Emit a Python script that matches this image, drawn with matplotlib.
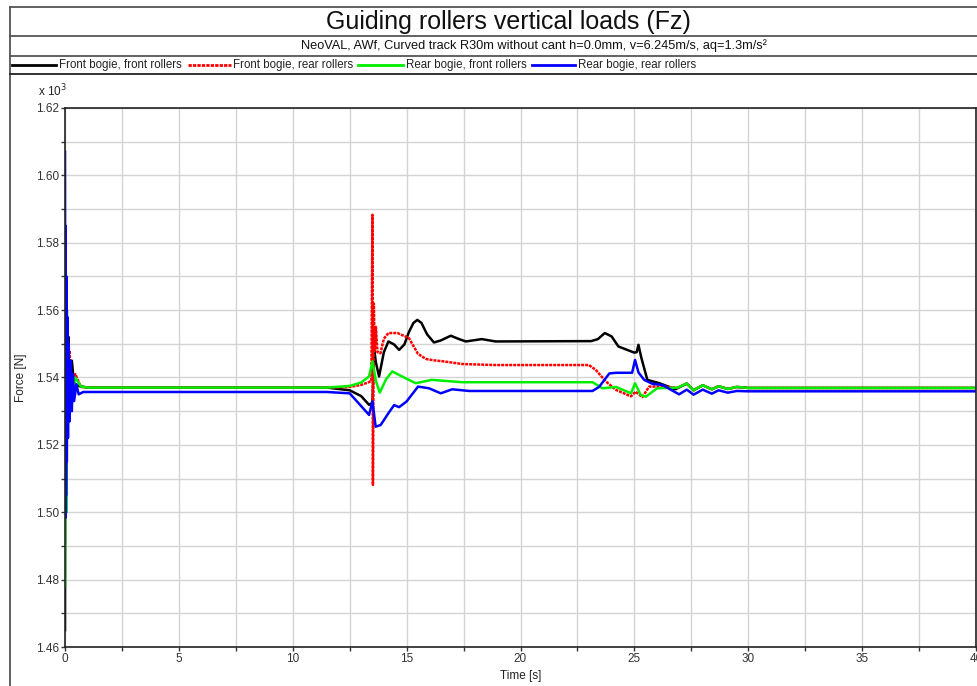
import matplotlib
matplotlib.use("Agg")
import matplotlib.pyplot as plt
from matplotlib.lines import Line2D
from matplotlib.ticker import MultipleLocator, FormatStrFormatter

# ---------------- data (values in 10^3 N) ----------------
series_names = ["Front bogie, front rollers", "Front bogie, rear rollers",
                "Rear bogie, front rollers", "Rear bogie, rear rollers"]

t_ff = [0, 0.02, 0.05, 0.08, 0.12, 0.16, 0.2, 0.3, 0.4, 0.6, 1.0, 11.5, 12.5, 13.0,
        13.35, 13.5, 13.57, 13.65, 13.79, 14.0, 14.2, 14.45, 14.67, 14.9, 15.1, 15.3,
        15.47, 15.65, 15.9, 16.2, 16.5, 16.94, 17.3, 17.6, 18.3, 18.9, 23.1, 23.4, 23.7,
        24.0, 24.3, 24.99, 25.1, 25.18, 25.3, 25.57, 26.1, 26.8, 27.3, 27.6, 28.0, 28.4,
        28.7, 29.1, 29.5, 30.0, 40]
f_ff = [1.465, 1.571, 1.50, 1.56, 1.528, 1.552, 1.533, 1.545, 1.538, 1.5375, 1.537,
        1.537, 1.5362, 1.5345, 1.5319, 1.5325, 1.5487, 1.5445, 1.5403, 1.5475, 1.5507,
        1.5498, 1.5482, 1.5498, 1.5535, 1.5562, 1.5571, 1.5562, 1.5528, 1.5504, 1.551,
        1.5524, 1.5514, 1.5507, 1.5514, 1.5507, 1.5508, 1.5514, 1.5532, 1.5522, 1.5492,
        1.5474, 1.5475, 1.5497, 1.546, 1.5393, 1.5383, 1.5365, 1.5382, 1.5362, 1.5377,
        1.5365, 1.5374, 1.5366, 1.5372, 1.5369, 1.5369]

t_fr = [0, 0.03, 0.06, 0.1, 0.15, 0.2, 0.3, 0.45, 0.7, 1.0, 11.5, 12.5, 13.0, 13.3,
        13.45, 13.5, 13.52, 13.56, 13.6, 13.65, 13.72, 13.85, 14.0, 14.2, 14.6, 15.1,
        15.5, 15.85, 16.2, 16.6, 17.45, 18.9, 23.0, 23.3, 23.75, 24.2, 24.85, 25.05,
        25.35, 25.65, 26.2, 26.9, 27.3, 27.6, 28.0, 28.4, 28.7, 29.1, 29.5, 30.0, 40]
f_fr = [1.52, 1.563, 1.53, 1.555, 1.535, 1.548, 1.534, 1.541, 1.5372, 1.537, 1.537,
        1.5372, 1.5378, 1.5385, 1.539, 1.5883, 1.5081, 1.562, 1.548, 1.555, 1.5475,
        1.5472, 1.5515, 1.5532, 1.5532, 1.5517, 1.547, 1.5455, 1.5451, 1.5448, 1.544,
        1.5437, 1.5437, 1.5423, 1.5388, 1.5363, 1.5344, 1.5358, 1.5342, 1.5373, 1.5373,
        1.537, 1.5382, 1.5362, 1.5377, 1.5365, 1.5374, 1.5366, 1.5372, 1.5369, 1.5369]

t_rf = [0, 0.03, 0.06, 0.1, 0.15, 0.2, 0.3, 0.45, 0.7, 1.0, 11.5, 12.5, 13.0, 13.35,
        13.5, 13.65, 13.82, 14.1, 14.37, 14.8, 15.4, 16.1, 17.45, 23.16, 23.6, 24.2,
        24.85, 25.03, 25.28, 25.5, 26.0, 26.9, 27.3, 27.6, 28.0, 28.4, 28.7, 29.1, 29.5,
        30.0, 40]
f_rf = [1.478, 1.556, 1.50, 1.55, 1.53, 1.545, 1.534, 1.540, 1.5373, 1.537, 1.537,
        1.5375, 1.5385, 1.5403, 1.5448, 1.539, 1.5355, 1.5395, 1.5418, 1.5403, 1.5383,
        1.5393, 1.5386, 1.5386, 1.5368, 1.5372, 1.5353, 1.5383, 1.5348, 1.5343, 1.5368,
        1.537, 1.5382, 1.5362, 1.5377, 1.5365, 1.5374, 1.5366, 1.5372, 1.5369, 1.5369]

t_rr = [0, 0.015, 0.03, 0.045, 0.06, 0.08, 0.1, 0.13, 0.16, 0.2, 0.25, 0.3, 0.35, 0.4,
        0.5, 0.6, 0.8, 11.5, 12.5, 13.35, 13.5, 13.64, 13.86, 14.2, 14.45, 14.67, 15.0,
        15.5, 15.98, 16.5, 17.0, 17.74, 23.16, 23.45, 23.9, 24.2, 24.9, 25.03, 25.18,
        25.43, 25.8, 26.23, 26.96, 27.3, 27.6, 28.0, 28.4, 28.7, 29.1, 29.5, 30, 40]
f_rr = [1.607, 1.4983, 1.585, 1.505, 1.57, 1.515, 1.558, 1.522, 1.55, 1.527, 1.545,
        1.530, 1.541, 1.533, 1.538, 1.535, 1.5357, 1.5357, 1.5353, 1.5289, 1.5329,
        1.5254, 1.5259, 1.5294, 1.5318, 1.5312, 1.5329, 1.5373, 1.5368, 1.5353, 1.5365,
        1.536, 1.536, 1.5372, 1.5412, 1.5414, 1.5414, 1.5452, 1.5415, 1.5393, 1.5381,
        1.5378, 1.535, 1.5364, 1.5349, 1.5364, 1.5352, 1.5362, 1.5355, 1.536, 1.5359,
        1.5359]

title = "Guiding rollers vertical loads (Fz)"
subtitle = "NeoVAL, AWf, Curved track R30m without cant h=0.0mm, v=6.245m/s, aq=1.3m/s²"

# ---------------- style ----------------
plt.rcParams["font.family"] = ["Liberation Sans", "DejaVu Sans"]

colors = ["#000000", "#ff0000", "#00ee00", "#0000ff"]
styles = ["-", (0, (1.2, 0.4)), "-", "-"]

W, H = 977, 686
fig = plt.figure(figsize=(W / 100, H / 100), dpi=100)
fig.patch.set_facecolor("white")

def fx(px):
    return px / W

def fy(py):
    return 1 - py / H

# frame lines
frame_kw = dict(transform=fig.transFigure, color="#555555", lw=1.3)
fig.add_artist(Line2D([fx(10), fx(10)], [fy(7), fy(686)], **frame_kw))
for yy in (7, 36, 56):
    fig.add_artist(Line2D([fx(10), 1], [fy(yy), fy(yy)], **frame_kw))
fig.add_artist(Line2D([fx(10), 1], [fy(74), fy(74)], transform=fig.transFigure,
                      color="#222222", lw=1.3))

fig.text(fx(508), fy(21.5), title, ha="center", va="center", fontsize=18,
         color="#111111")
fig.text(fx(534), fy(46), subtitle, ha="center", va="center", fontsize=9.2,
         color="#111111")

# legend row
leg_pos = [(12, 56, 59), (188, 231, 233), (358, 403, 406), (532, 575, 578)]
for (x0, x1, xt), name, c, ls in zip(leg_pos, series_names, colors, styles):
    fig.add_artist(Line2D([fx(x0), fx(x1)], [fy(65), fy(65)], transform=fig.transFigure,
                          color=c, lw=2, linestyle=ls))
    fig.text(fx(xt), fy(65), name, ha="left", va="center", fontsize=8.3, color="#222222")

# axes
ax = fig.add_axes([fx(65), fy(647), fx(976) - fx(65), fy(108) - fy(647)])
ts = [t_ff, t_fr, t_rf, t_rr]
fs = [f_ff, f_fr, f_rf, f_rr]
for t, f, c, ls, name in zip(ts, fs, colors, styles, series_names):
    ax.plot(t, f, color=c, lw=1.8, linestyle=ls, label=name, solid_joinstyle="round")

ax.set_xlim(0, 40)
ax.set_ylim(1.46, 1.62)
ax.xaxis.set_major_locator(MultipleLocator(5))
ax.xaxis.set_minor_locator(MultipleLocator(2.5))
ax.yaxis.set_major_locator(MultipleLocator(0.02))
ax.yaxis.set_minor_locator(MultipleLocator(0.01))
ax.yaxis.set_major_formatter(FormatStrFormatter("%.2f"))
ax.xaxis.set_major_formatter(FormatStrFormatter("%g"))
ax.grid(which="both", color="#d4d4d4", lw=1)
ax.set_axisbelow(True)
ax.tick_params(which="both", direction="out", length=3, width=1, labelsize=8.5,
               labelcolor="#333333", color="#333333", pad=1)
for s in ax.spines.values():
    s.set_color("#222222")
    s.set_linewidth(1.2)

ax.set_xlabel("Time [s]", fontsize=8.5, color="#222222", labelpad=4)
ax.set_ylabel("Force [N]", fontsize=8.5, color="#222222", labelpad=7)
fig.text(fx(38), fy(91), r"x 10$^3$", ha="left", va="center", fontsize=8.5,
         color="#222222")

fig.savefig("out.png", dpi=100, facecolor="white")
